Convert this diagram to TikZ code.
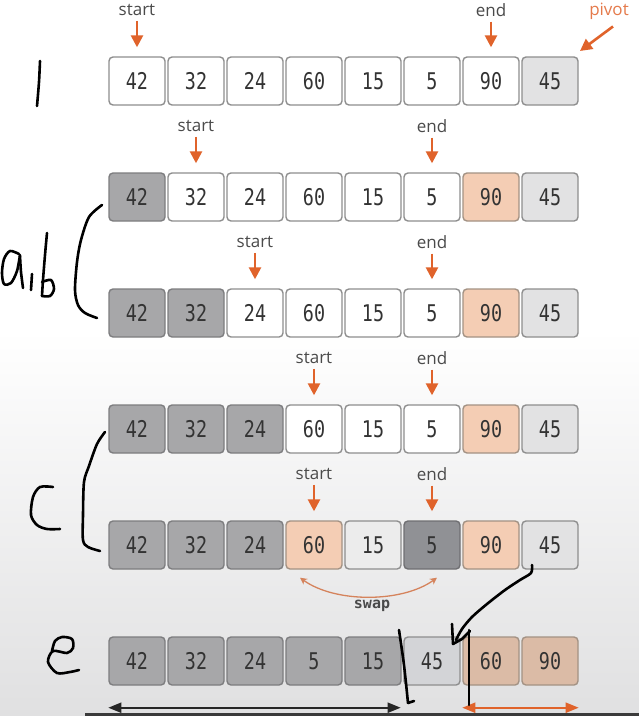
\documentclass[tikz,border=0pt]{standalone}
\usepackage{fontspec}
\usepackage{graphicx}
\setmainfont{Open Sans}
\newfontfamily\digfont{DejaVu Sans Mono}
\usetikzlibrary{arrows.meta}
\definecolor{orng}{HTML}{E0632B}
\definecolor{swc}{HTML}{D5835C}
\definecolor{bgbot}{HTML}{E0E0E1}
\definecolor{txt}{HTML}{333333}
\definecolor{lbltxt}{HTML}{4A4A4A}
\definecolor{bdr}{HTML}{8E8E8E}
\definecolor{dfill}{HTML}{A7A7A9}
\definecolor{dbdr}{HTML}{7D7D7F}
\definecolor{pfill}{HTML}{E2E2E3}
\definecolor{ofill}{HTML}{F4CDB4}
\definecolor{obdr}{HTML}{A39284}
\definecolor{lfill}{HTML}{ECECEC}
\definecolor{d2fill}{HTML}{909195}
\definecolor{d2bdr}{HTML}{6F6F72}
\definecolor{p6fill}{HTML}{D3D4D7}
\definecolor{o6fill}{HTML}{DBBBA6}
\definecolor{barc}{HTML}{3A3A3A}
\tikzset{
  cell/.style={rounded corners=4pt, line width=1.4pt, minimum width=56pt, minimum height=48pt, inner sep=0pt,
    font=\digfont\fontsize{23}{23}\selectfont, text=txt},
  wc/.style={cell, fill=white, draw=bdr},
  dc/.style={cell, fill=dfill, draw=dbdr},
  pc/.style={cell, fill=pfill, draw=bdr},
  oc/.style={cell, fill=ofill, draw=obdr},
  lc/.style={cell, fill=lfill, draw=bdr},
  dd/.style={cell, fill=d2fill, draw=d2bdr},
  pp/.style={cell, fill=p6fill, draw=bdr},
  oo/.style={cell, fill=o6fill, draw=obdr},
  lbl/.style={font=\fontsize{17}{17}\selectfont, text=lbltxt, inner sep=1pt},
  ptr/.style={draw=orng, line width=2.6pt, -{Triangle[width=12pt,length=12pt]}},
  swaparr/.style={draw=swc, line width=1.3pt, {Stealth[length=7pt,width=7pt]}-{Stealth[length=7pt,width=7pt]}},
  spanblack/.style={draw=black!85, line width=2pt, {Triangle[width=10pt,length=13pt]}-{Triangle[width=10pt,length=13pt]}},
  spanorng/.style={draw=orng, line width=2pt, {Triangle[width=10pt,length=13pt]}-{Triangle[width=10pt,length=13pt]}},
  hw/.style={draw=black, line width=2.6pt, line cap=round, line join=round}
}
\newcommand{\dg}[1]{\scalebox{0.8}[1]{#1}}
\begin{document}
\begin{tikzpicture}[x=1pt,y=-1pt]
\useasboundingbox (0,0) rectangle (639,716);
\fill[white] (0,0) rectangle (639,330);
\shade[top color=white, bottom color=bgbot] (0,330) rectangle (639,716);

% rows of cells
\foreach \s/\v [count=\i] in {wc/42,wc/32,wc/24,wc/60,wc/15,wc/5,wc/90,pc/45}
  \node[\s] (r1c\i) at ({137+59*(\i-1)},81) {\dg{\v}};
\foreach \s/\v [count=\i] in {dc/42,wc/32,wc/24,wc/60,wc/15,wc/5,oc/90,pc/45}
  \node[\s] (r2c\i) at ({137+59*(\i-1)},197) {\dg{\v}};
\foreach \s/\v [count=\i] in {dc/42,dc/32,wc/24,wc/60,wc/15,wc/5,oc/90,pc/45}
  \node[\s] (r3c\i) at ({137+59*(\i-1)},313) {\dg{\v}};
\foreach \s/\v [count=\i] in {dc/42,dc/32,dc/24,wc/60,wc/15,wc/5,oc/90,pc/45}
  \node[\s] (r4c\i) at ({137+59*(\i-1)},429) {\dg{\v}};
\foreach \s/\v [count=\i] in {dc/42,dc/32,dc/24,oc/60,lc/15,dd/5,oc/90,pc/45}
  \node[\s] (r5c\i) at ({137+59*(\i-1)},545) {\dg{\v}};
\foreach \s/\v [count=\i] in {dc/42,dc/32,dc/24,dc/5,dc/15,pp/45,oo/60,oo/90}
  \node[\s] (r6c\i) at ({137+59*(\i-1)},661) {\dg{\v}};

% start / end labels and pointers
\foreach \r/\sc/\ec/\y in {1/1/7/10, 2/2/6/126, 3/3/6/242, 4/4/6/358, 5/4/6/474} {
  \node[lbl] (st\r) at ({137+59*(\sc-1)},\y) {start};
  \node[lbl] (en\r) at ({137+59*(\ec-1)},\y) {end};
  \draw[ptr, shorten <=4pt, shorten >=9pt] (st\r.south) -- (r\r c\sc.north);
  \draw[ptr, shorten <=4pt, shorten >=9pt] (en\r.south) -- (r\r c\ec.north);
}

% pivot
\node[lbl, text=orng!85!white] (pv) at (609,11) {pivot};
\coordinate (pvt) at (580,51);
\draw[ptr] ([xshift=4pt,yshift=-6pt]pv.south) -- (pvt);

% swap
\draw[swaparr] ([xshift=-14pt,yshift=-8pt]r5c4.south) .. controls (335,603) and (402,603) .. ([xshift=5pt,yshift=-8pt]r5c6.south);
\node[font=\digfont\bfseries\fontsize{15}{15}\selectfont, text=lbltxt] (swp) at (372,606) {swap};

% spans under last row
\draw[spanblack] ([yshift=-22pt]r6c1.south west) -- ([xshift=-1pt,yshift=-22pt]r6c5.south east);
\draw[spanorng] ([yshift=-22pt]r6c7.south west) -- ([yshift=-22pt]r6c8.south east);

% bottom bar
\fill[barc] (85,713) rectangle (639,716);

% handwritten marks
\draw[hw] plot[smooth] coordinates {(40,61) (39,82) (37,106)};
% a,b
\draw[hw] plot[smooth] coordinates {(19,254) (10,251) (4,259) (2,273) (4,284) (11,283) (17,271) (20,255)};
\draw[hw] plot[smooth] coordinates {(20,256) (21,272) (23,288)};
\draw[hw] (32,274) -- (31,290);
\draw[hw] plot[smooth] coordinates {(47,233) (45,255) (43,280) (42,296)};
\draw[hw] plot[smooth] coordinates {(42,282) (51,280) (54,289) (50,296) (42,296)};
\draw[hw] plot[smooth] coordinates {(102,205) (89,217) (81,240) (77,262) (75,290) (78,305) (85,313) (97,318)};
% C
\draw[hw] plot[smooth] coordinates {(53,487) (40,487) (33,497) (31,515) (37,525) (47,529) (60,529)};
\draw[hw] plot[smooth] coordinates {(105,432) (97,444) (89,466) (84,482) (83,515) (83,540) (88,547) (100,551)};
% e
\draw[hw] plot[smooth] coordinates {(52,651) (55,641) (62,637) (72,639) (73,648) (67,653) (53,651) (48,662) (57,673) (70,672) (79,670)};
% divider lines and arrow near the bottom right
\draw[hw] plot[smooth] coordinates {(399,630) (404,665) (408,703)};
\draw[hw] (408,703) -- (414,701);
\draw[hw] plot[smooth] coordinates {(532,565) (531,573) (520,580) (505,590) (487,604) (472,617) (462,629) (456,640)};
\draw[hw] (452,624) -- (453,644) -- (462,639) -- (470,631);
\draw[hw] (469,630) -- (469,705);
\end{tikzpicture}
\end{document}
